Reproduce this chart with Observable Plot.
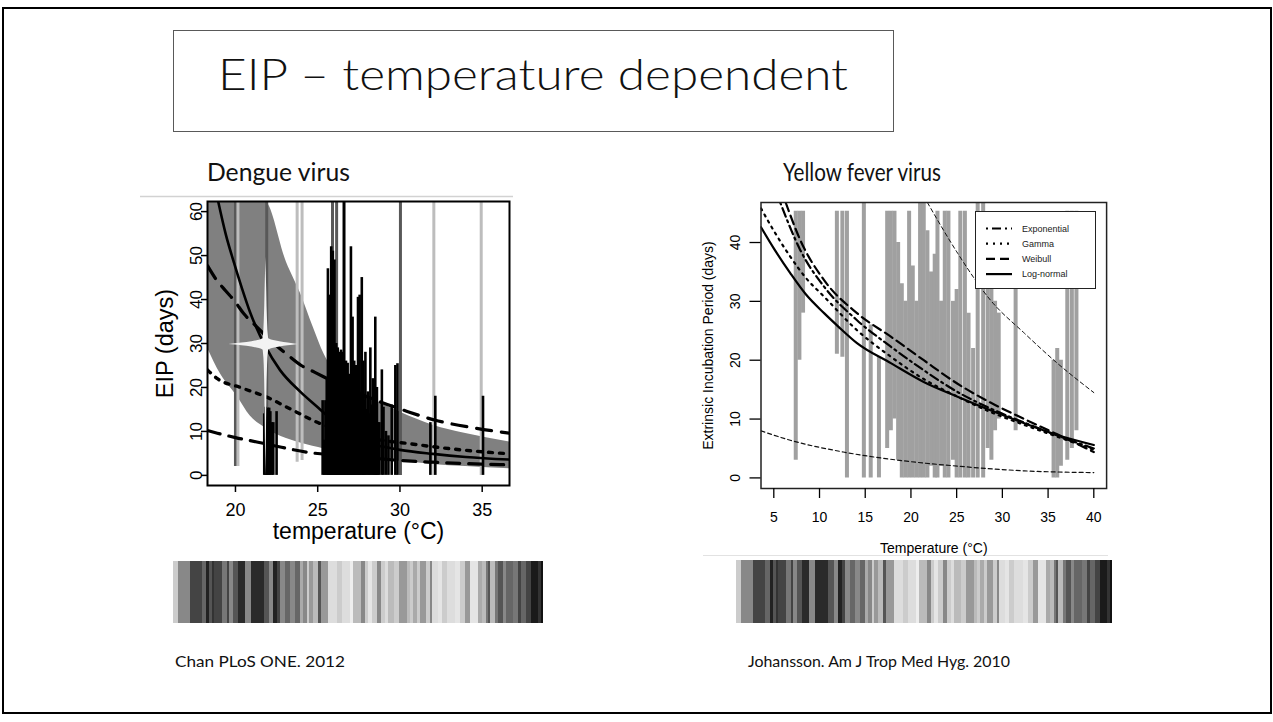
<!DOCTYPE html>
<html><head><meta charset="utf-8">
<script src="https://cdn.jsdelivr.net/npm/d3@7"></script>
<script src="https://cdn.jsdelivr.net/npm/@observablehq/plot@0.6"></script>
<style>
html,body{margin:0;padding:0;background:#fff;}
#slide{position:relative;width:1273px;height:722px;overflow:hidden;background:#fff;}
</style></head><body><div id="slide"></div>
<script>
// ================= DATA =================
// ---- slide texts
const slideTitle = "EIP – temperature dependent";
const panelTitles = ["Dengue virus", "Yellow fever virus"];
const captions = ["Chan PLoS ONE. 2012", "Johansson. Am J Trop Med Hyg. 2010"];

// ---- Dengue panel (left)
const dengueXTicks = [20, 25, 30, 35];
const dengueYTicks = [0, 10, 20, 30, 40, 50, 60];
const dengueXLabel = "temperature (°C)";
const dengueYLabel = "EIP (days)";
// prediction band
const dengueBandT  = [18.3, 19.1, 20.1, 20.9, 21.8, 23.1, 24.0, 24.7, 25.4, 26.0, 27.0, 28.4, 30.0, 32.0, 34.0, 36.66];
const dengueBandHi = [62.3, 62.3, 62.3, 62.3, 62.3, 48.5, 41.0, 34.0, 27.5, 23.8, 20.6, 17.3, 14.4, 11.4, 9.5, 7.6];
const dengueBandLo = [29.0, 23.0, 18.0, 13.5, 10.8, 8.4, 7.3, 6.6, 6.0, 5.5, 4.6, 3.8, 3.2, 2.5, 2.0, 1.5];
// fitted curves
const dengueSolidT = [18.95, 19.4, 19.9, 20.4, 20.9, 21.8, 22.7, 23.95, 25.0, 25.6, 26.5, 27.2, 28.0, 29.0, 30.0, 32.0, 34.0, 36.66];
const dengueSolidY = [62.3, 55.0, 48.5, 42.5, 37.0, 29.5, 24.0, 19.0, 15.5, 13.5, 10.6, 8.8, 7.4, 6.5, 5.8, 4.9, 4.2, 3.6];
const dengueDashT  = [18.3, 18.8, 19.4, 20.0, 20.5, 21.1, 22.5, 23.2, 24.0, 24.8, 26.5, 28.2, 30.4, 32.1, 34.5, 36.66];
const dengueDashY  = [47.7, 44.7, 42.0, 39.4, 36.8, 34.5, 29.5, 27.3, 25.0, 23.5, 20.3, 17.6, 14.6, 12.6, 10.8, 9.6];
const dengueDotT   = [18.3, 18.9, 20.3, 21.9, 23.5, 25.2, 26.8, 28.4, 30.6, 32.5, 34.0, 36.66];
const dengueDotY   = [24.0, 22.0, 20.0, 17.8, 14.8, 11.7, 9.8, 8.3, 7.2, 6.3, 5.7, 4.9];
const dengueLowT   = [18.3, 18.9, 20.0, 21.3, 22.8, 24.3, 26.0, 28.4, 30.0, 32.0, 34.0, 36.66];
const dengueLowY   = [10.2, 9.6, 8.6, 7.6, 6.4, 5.3, 4.6, 3.9, 3.4, 3.0, 2.7, 2.4];
// full-height observation lines (group: A dark, B light, C black)
const dengueLineT     = [20.0, 20.15, 21.9, 23.75, 24.05, 25.9, 26.15, 26.6, 30.03, 32.06, 34.94];
const dengueLineLo    = [2, 2, 0, 3, 3.4, 0, 0, 0, 0, 0, 0];
const dengueLineHi    = [62.3, 62.3, 62.3, 62.3, 62.3, 62.3, 62.3, 62.3, 62.3, 62.3, 62.3];
const dengueLineGroup = ["A", "B", "A", "B", "B", "A", "A", "C", "A", "B", "B"];
// observed EIP bars
const dengueBarT = [21.75, 21.82, 21.9, 21.97, 22.05, 22.12, 22.2, 22.3, 22.5,
  25.3, 25.4, 25.47, 25.55, 25.62, 25.68, 25.72, 25.78, 25.82, 25.88, 25.92, 25.97, 26.02, 26.07, 26.12, 26.17, 26.22, 26.27, 26.32, 26.37, 26.42, 26.47, 26.52, 26.58, 26.65, 26.72, 26.77, 26.82, 26.87, 26.92, 26.97,
  27.02, 27.07, 27.12, 27.17, 27.22, 27.27, 27.32, 27.38, 27.45, 27.5, 27.55, 27.6, 27.68, 27.73, 27.78, 27.84, 27.9, 27.97,
  28.05, 28.12, 28.2, 28.27, 28.35, 28.42, 28.5, 28.55, 28.6, 28.68, 28.75, 28.9, 29.0, 29.15, 29.3, 29.5, 29.72, 29.85, 31.85, 32.15, 35.05];
const dengueBarY = [14, 15.5, 15, 15.3, 15.3, 14.5, 12, 12, 14.5,
  17, 8, 17, 22, 47, 30, 41, 35, 52, 45, 51, 38, 49, 20, 30, 24, 29, 20, 28, 15, 28.5, 22, 28, 20, 18, 26, 21, 25.5, 17, 23, 19,
  52, 24, 36, 20, 26, 18, 25, 22, 40.5, 20, 41, 18, 45, 22, 26, 17, 28, 15,
  19, 14, 29, 16, 22, 13, 36, 14, 20, 12, 12, 24, 15.5, 10, 9, 16, 25, 25.4, 12, 18, 18];
// sparkle
const starCenter = {t: 21.85, eip: 29.8};
const starArmT    = [19.6, 20.4, 21.0, 21.45, 21.85, 22.25, 22.7, 23.2, 23.8];
const starArmHalf = [0, 0.3, 0.6, 0.95, 1.4, 0.95, 0.6, 0.3, 0];
const starSpikeE    = [0, 8, 18, 25, 28.3, 29.8, 31.3, 35, 42, 49.6];
const starSpikeHalf = [0, 0.03, 0.06, 0.1, 0.16, 0.24, 0.16, 0.1, 0.05, 0];

// ---- Yellow fever panel (right)
const yfXTicks = [5, 10, 15, 20, 25, 30, 35, 40];
const yfYTicks = [0, 10, 20, 30, 40];
const yfXLabel = "Temperature (°C)";
const yfYLabel = "Extrinsic Incubation Period (days)";
const yfSegT  = [7.4, 7.8, 8.2, 11.9, 12.5, 13.0, 14.85, 15.6, 16.5, 17.4, 17.8, 18.2, 18.6, 19.0, 19.4, 19.8, 20.2, 20.6, 21.0, 21.4, 21.8, 22.2, 22.6, 22.9, 23.3, 23.7, 24.1, 24.6, 25.0, 25.4, 25.9, 26.3, 26.8, 27.3, 27.9, 28.4, 28.8, 29.2, 29.6, 31.45, 35.6, 36.0, 36.4, 37.1, 37.6, 38.1];
const yfSegLo = [3, 20, 28, 21, 20.5, 0, 0, 0, 0, 5, 8, 10, 3, 0, 0, 0, 0, 0, 0, 0, 0, 2, 0, 0, 2, 0, 0, 3, 0, 0, 0, 0, 0, 0, 0, 5, 3, 8, 10, 8, 0, 0, 2, 3, 5, 8];
const yfSegHi = [45.3, 45.3, 45.3, 45.3, 45.3, 45.3, 46.8, 26, 20.5, 45.3, 45.3, 45.3, 40, 33, 30, 45.3, 36, 30, 46.8, 46.8, 42, 35, 38, 45.3, 30, 45.3, 45.3, 30, 32, 45.3, 45.3, 28, 22, 46.8, 46.8, 32, 32, 30, 28, 38, 20, 22, 20, 45.3, 45.3, 45.3];
const yfModels = ["Exponential", "Gamma", "Weibull", "Log-normal"];
const yfExpT = [5.7, 7.9, 10.5, 14.1, 17.8, 21.4, 25.1, 28.7, 32.4, 36.0, 40.0];
const yfExpY = [46.8, 38.7, 32.5, 26.8, 22.3, 18.3, 14.6, 11.8, 9.4, 7.2, 5.0];
const yfGamT = [3.6, 5.0, 6.8, 8.5, 10.5, 14.1, 17.8, 21.4, 25.1, 28.7, 32.4, 36.0, 40.0];
const yfGamY = [45.8, 42.0, 37.6, 34.0, 30.8, 25.1, 20.6, 16.8, 13.8, 11.2, 9.0, 7.0, 4.8];
const yfWeiT = [6.3, 7.9, 10.5, 14.1, 17.8, 21.4, 25.1, 28.7, 32.4, 36.0, 40.0];
const yfWeiY = [46.8, 40.4, 33.6, 28.0, 24.0, 20.0, 16.0, 12.8, 10.0, 7.4, 4.4];
const yfLogT = [3.6, 5.0, 6.8, 8.5, 10.5, 12.0, 14.1, 17.8, 21.4, 25.1, 28.7, 32.4, 36.0, 40.0];
const yfLogY = [42.6, 39.0, 34.8, 31.2, 28.0, 25.8, 22.9, 19.5, 16.3, 13.8, 11.5, 9.3, 7.3, 5.6];
const yfUpT = [21.8, 25.1, 28.7, 32.4, 36.0, 40.0];
const yfUpY = [46.8, 38.2, 30.2, 24.6, 19.5, 14.5];
const yfLoT = [3.6, 6.8, 12.6, 19.2, 25.1, 32.4, 40.0];
const yfLoY = [8.0, 6.4, 4.4, 2.9, 2.0, 1.2, 0.9];

// ---- temperature stripes (grey level 0-255, relative span)
const stripeGrey = [204,136,68,102,34,85,51,68,119,68,136,85,42,136,42,85,136,34,68,136,102,136,102,170,136,204,153,187,85,153,221,204,221,238,187,136,204,229,204,136,204,221,187,204,153,187,204,170,204,153,204,136,221,229,204,221,229,204,153,229,170,187,119,85,187,119,85,136,102,119,68,102,68,26,51,17];
const stripeSpan = [5,12,12,4,3,3,2,8,5,2,4,5,7,6,13,5,4,4,3,5,5,5,5,3,4,2,4,5,3,7,9,5,8,3,8,4,3,4,5,4,4,3,6,5,8,3,3,4,3,6,4,2,6,4,5,8,5,5,5,8,4,4,2,2,5,3,5,3,7,5,3,5,5,7,3,2];

// ================= HELPERS =================
const slide = document.getElementById("slide");
function place(el, left, top) {
  el.style.position = "absolute";
  el.style.left = left + "px";
  el.style.top = top + "px";
  slide.appendChild(el);
  return el;
}
const zip = (xs, ys) => xs.map((x, i) => ({x, y: ys[i]}));
const FONT = "Liberation Sans, Arial, Helvetica, sans-serif";
const SLIDEFONT = "Lato, 'Open Sans', sans-serif";

// ================= SLIDE DECORATION =================
const deco = d3.create("svg").attr("width", 1273).attr("height", 722);
deco.append("rect").attr("x", 3).attr("y", 8).attr("width", 1268).attr("height", 705)
  .attr("fill", "none").attr("stroke", "#000").attr("stroke-width", 2);
deco.append("rect").attr("x", 173.5).attr("y", 30.5).attr("width", 720).attr("height", 101)
  .attr("fill", "none").attr("stroke", "#595959").attr("stroke-width", 1);
deco.append("text").attr("x", 533).attr("y", 90).attr("text-anchor", "middle")
  .attr("font-family", SLIDEFONT).attr("font-weight", 300).attr("font-size", 44)
  .attr("textLength", 630).attr("lengthAdjust", "spacingAndGlyphs").attr("fill", "#111")
  .text(slideTitle);
deco.append("text").attr("x", 207).attr("y", 181).attr("font-family", SLIDEFONT)
  .attr("font-size", 25).attr("fill", "#111")
  .attr("textLength", 143).attr("lengthAdjust", "spacingAndGlyphs").text(panelTitles[0]);
deco.append("text").attr("x", 783).attr("y", 181).attr("font-family", SLIDEFONT)
  .attr("font-size", 25).attr("fill", "#111")
  .attr("textLength", 158).attr("lengthAdjust", "spacingAndGlyphs").text(panelTitles[1]);
deco.append("text").attr("x", 175).attr("y", 667).attr("font-family", SLIDEFONT)
  .attr("font-size", 16).attr("fill", "#111")
  .attr("textLength", 170).attr("lengthAdjust", "spacingAndGlyphs").text(captions[0]);
deco.append("text").attr("x", 748).attr("y", 667).attr("font-family", SLIDEFONT)
  .attr("font-size", 16).attr("fill", "#111")
  .attr("textLength", 262).attr("lengthAdjust", "spacingAndGlyphs").text(captions[1]);
deco.append("line").attr("x1", 140).attr("x2", 513).attr("y1", 196.5).attr("y2", 196.5)
  .attr("stroke", "#d2d2d2").attr("stroke-width", 1.5);
deco.append("line").attr("x1", 703).attr("x2", 1108).attr("y1", 555.5).attr("y2", 555.5)
  .attr("stroke", "#e2e2e2").attr("stroke-width", 1);
place(deco.node(), 0, 0);

// ================= DENGUE PLOT =================
const bandRows = dengueBandT.map((t, i) => ({t, lo: dengueBandLo[i], hi: dengueBandHi[i]}));
const lineRows = dengueLineT.map((t, i) => ({t, lo: dengueLineLo[i], hi: dengueLineHi[i], g: dengueLineGroup[i]}));
const barRows = dengueBarT.map((t, i) => ({t, eip: dengueBarY[i]}));
const armRows = starArmT.map((t, i) => ({t, lo: starCenter.eip - starArmHalf[i], hi: starCenter.eip + starArmHalf[i]}));
const spikeRows = starSpikeE.map((e, i) => ({e, lo: starCenter.t - starSpikeHalf[i], hi: starCenter.t + starSpikeHalf[i]}));

const dengue = Plot.plot({
  width: 390, height: 360,
  marginLeft: 67, marginRight: 21, marginTop: 11, marginBottom: 65,
  x: {domain: [18.3, 36.66]},
  y: {domain: [-2.3, 62.3]},
  color: {type: "ordinal", domain: ["A", "B", "C"], range: ["#585858", "#bdbdbd", "#000000"]},
  style: {background: "transparent", fontFamily: FONT, overflow: "visible"},
  marks: [
    Plot.areaY(bandRows, {x: "t", y1: "lo", y2: "hi", fill: "#808080", curve: "monotone-x", clip: true}),
    Plot.ruleX(lineRows, {x: "t", y1: "lo", y2: "hi", stroke: "g", strokeWidth: 3, clip: true}),
    Plot.ruleX(barRows, {x: "t", y1: 0, y2: "eip", stroke: "#000", strokeWidth: 2.6, clip: true}),
    Plot.line(zip(dengueLowT, dengueLowY), {x: "x", y: "y", stroke: "#000", strokeWidth: 3.2, strokeDasharray: "13,9", curve: "monotone-x", clip: true}),
    Plot.line(zip(dengueDotT, dengueDotY), {x: "x", y: "y", stroke: "#000", strokeWidth: 3.4, strokeDasharray: "4,7", strokeLinecap: "round", curve: "monotone-x", clip: true}),
    Plot.line(zip(dengueDashT, dengueDashY), {x: "x", y: "y", stroke: "#000", strokeWidth: 3.2, strokeDasharray: "15,10", curve: "monotone-x", clip: true}),
    Plot.line(zip(dengueSolidT, dengueSolidY), {x: "x", y: "y", stroke: "#000", strokeWidth: 2.6, curve: "monotone-x", clip: true}),
    Plot.areaY(armRows, {x: "t", y1: "lo", y2: "hi", fill: "#f3f3f3", curve: "monotone-x"}),
    Plot.areaX(spikeRows, {y: "e", x1: "lo", x2: "hi", fill: "#f3f3f3", curve: "monotone-y"}),
    Plot.frame({stroke: "#000", strokeWidth: 2}),
    Plot.axisX({ticks: dengueXTicks, tickSize: 7, tickPadding: 11, fontSize: 18, strokeWidth: 1.5, label: null}),
    Plot.axisY({ticks: dengueYTicks, tickSize: 6, tickPadding: 0, tickRotate: -90, fontSize: 17, strokeWidth: 1.5, label: null}),
    Plot.text([dengueXLabel], {frameAnchor: "bottom", lineAnchor: "middle", dy: 46, fontSize: 23}),
    Plot.text([dengueYLabel], {frameAnchor: "left", textAnchor: "middle", lineAnchor: "middle", rotate: -90, dx: -42, fontSize: 23.5})
  ]
});
place(dengue, 140, 190);

// ================= YELLOW FEVER PLOT =================
const segRows = yfSegT.map((t, i) => ({t, lo: yfSegLo[i], hi: yfSegHi[i]}));
const yf = Plot.plot({
  width: 430, height: 375,
  marginLeft: 70.5, marginRight: 13.9, marginTop: 12, marginBottom: 77,
  x: {domain: [3.6, 41.4]},
  y: {domain: [-1.8, 46.8]},
  style: {background: "transparent", fontFamily: FONT, overflow: "visible"},
  marks: [
    Plot.ruleX(segRows, {x: "t", y1: "lo", y2: "hi", stroke: "#a0a0a0", strokeWidth: 4, clip: true}),
    Plot.line(zip(yfUpT, yfUpY), {x: "x", y: "y", stroke: "#111", strokeWidth: 1, strokeDasharray: "4,3", curve: "monotone-x", clip: true}),
    Plot.line(zip(yfLoT, yfLoY), {x: "x", y: "y", stroke: "#111", strokeWidth: 1.2, strokeDasharray: "4,3", curve: "monotone-x", clip: true}),
    Plot.line(zip(yfWeiT, yfWeiY), {x: "x", y: "y", stroke: "#000", strokeWidth: 2.2, strokeDasharray: "9,5", curve: "monotone-x", clip: true}),
    Plot.line(zip(yfExpT, yfExpY), {x: "x", y: "y", stroke: "#000", strokeWidth: 2.2, strokeDasharray: "2,4,9,4", curve: "monotone-x", clip: true}),
    Plot.line(zip(yfGamT, yfGamY), {x: "x", y: "y", stroke: "#000", strokeWidth: 2.2, strokeDasharray: "2,5", curve: "monotone-x", clip: true}),
    Plot.line(zip(yfLogT, yfLogY), {x: "x", y: "y", stroke: "#000", strokeWidth: 2.2, curve: "monotone-x", clip: true}),
    Plot.frame({stroke: "#222", strokeWidth: 1.5}),
    Plot.axisX({ticks: yfXTicks, tickSize: 10, tickPadding: 14, fontSize: 14, strokeWidth: 1.3, label: null}),
    Plot.axisY({ticks: yfYTicks, tickSize: 11, tickPadding: 10, tickRotate: -90, fontSize: 14, strokeWidth: 1.3, label: null}),
    Plot.text([yfXLabel], {frameAnchor: "bottom", lineAnchor: "middle", dy: 60, fontSize: 14}),
    Plot.text([yfYLabel], {frameAnchor: "left", textAnchor: "middle", lineAnchor: "middle", rotate: -90, dx: -52.5, fontSize: 14})
  ]
});
place(yf, 690, 190);

// legend for the yellow fever panel
const dashes = ["2,4,9,4", "2,5", "9,5", null];
const leg = d3.create("svg").attr("width", 121).attr("height", 78);
leg.append("rect").attr("x", 0.5).attr("y", 0.5).attr("width", 120).attr("height", 77)
  .attr("fill", "#fff").attr("stroke", "#222").attr("stroke-width", 1);
yfModels.forEach((m, i) => {
  const y = 17.5 + i * 15.2;
  leg.append("line").attr("x1", 11).attr("x2", 37).attr("y1", y).attr("y2", y)
    .attr("stroke", "#000").attr("stroke-width", 2.2).attr("stroke-dasharray", dashes[i]);
  leg.append("text").attr("x", 47).attr("y", y + 3.2).attr("font-family", FONT)
    .attr("font-size", 9).attr("fill", "#222").text(m);
});
place(leg.node(), 975, 211);

// ================= TEMPERATURE STRIPES =================
function stripes(w, h) {
  const ends = Array.from(d3.cumsum(stripeSpan));
  const rows = stripeGrey.map((g, i) => ({g, x1: ends[i] - stripeSpan[i], x2: ends[i]}));
  return Plot.plot({
    width: w, height: h, margin: 0,
    x: {domain: [0, d3.sum(stripeSpan)], axis: null},
    style: {background: "transparent"},
    marks: [
      Plot.rect(rows, {x1: "x1", x2: "x2", fill: d => `rgb(${d.g},${d.g},${d.g})`, shapeRendering: "crispEdges"})
    ]
  });
}
place(stripes(370, 62), 173, 561);
place(stripes(376, 63), 736, 560);
</script></body></html>
